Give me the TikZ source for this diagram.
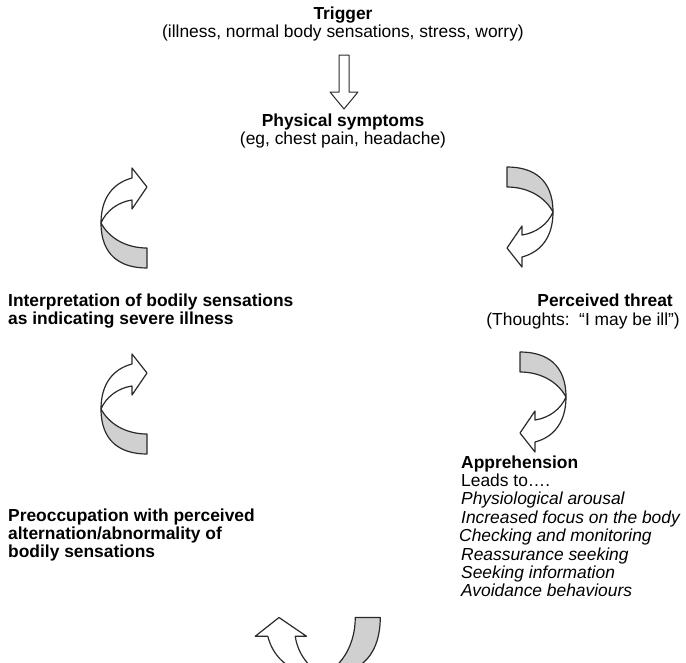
\documentclass[tikz,border=0pt]{standalone}
\usepackage{fontspec}
\setmainfont{Liberation Sans}
\usepackage{tikz}
\usetikzlibrary{positioning}
\definecolor{ribbongray}{HTML}{D0D0D0}
\definecolor{outline}{HTML}{2A2A2A}
\newcommand\bodyfont{\fontsize{17.4}{18}\selectfont}
\frenchspacing

\tikzset{
  txt/.style={inner sep=0pt, text height=12.6pt, text depth=5.4pt, font=\bodyfont},
  head/.style={txt, font=\bodyfont\bfseries},
  item/.style={txt, font=\bodyfont\itshape},
  ribbon/.style={draw=outline, line width=1.2pt, line join=round},
  pics/twistarrow/.style={code={
    % back side of the ribbon (grey)
    \filldraw[ribbon, fill=ribbongray]
      (0,0) .. controls (0,32) and (19,45) .. (46,45) -- (46,25)
      .. controls (25,25) and (8,15) .. (0,0) -- cycle;
    % front side with the head
    \filldraw[ribbon, fill=white]
      (0,0) .. controls (0,-25) and (12,-40) .. (31,-45) -- (31,-55)
      -- (46,-36) -- (31,-14) -- (31,-23)
      .. controls (17,-21) and (5,-12) .. (0,0) -- cycle;
  }}
}

\begin{document}
\begin{tikzpicture}[x=1pt, y=-1pt]
\useasboundingbox (0,0) rectangle (686,662);

% top of the cycle
\node[head, anchor=base] (trigger) at (343,19) {Trigger};
\node[txt, below=0pt of trigger] (causes) {(illness, normal body sensations, stress, worry)};
\node[head, anchor=base] (symptoms) at (343,126) {Physical symptoms};
\node[txt, below=0pt of symptoms] (examples) {(eg, chest pain, headache)};

% block arrow from trigger to symptoms
\coordinate (down) at (344,55);
\filldraw[ribbon, fill=white, line width=1pt, shift={(down)}]
  (-5,0) -- (5,0) -- (5,37) -- (14,37) -- (0,54) -- (-14,37) -- (-5,37) -- cycle;

% right side
\node[head, anchor=base east] (threat) at (673,306) {Perceived threat};
\node[txt, anchor=base east] (thoughts) at (680,325) {(Thoughts:\ \ “I may be ill”)};

\node[head, anchor=base west] (appr) at (461,468) {Apprehension};
\node[txt, anchor=north west] (leads) at (appr.south west) {Leads to….};
\node[item, anchor=north west] (arousal) at (leads.south west) {Physiological arousal};
\node[item, anchor=north west] (focus) at (arousal.south west) {Increased focus on the body};
\node[item, anchor=north west, xshift=-2pt] (checking) at (focus.south west) {Checking and monitoring};
\node[item, anchor=north west] (reassure) at (focus.south west |- checking.south) {Reassurance seeking};
\node[item, anchor=north west] (info) at (reassure.south west) {Seeking information};
\node[item, anchor=north west] (avoid) at (info.south west) {Avoidance behaviours};

% left side
\node[head, anchor=base west] (interp) at (8,306) {Interpretation of bodily sensations};
\node[head, anchor=north west] (interp2) at (interp.south west) {as indicating severe illness};

\node[head, anchor=base west] (preocc) at (8,521) {Preoccupation with perceived};
\node[head, anchor=north west] (preocc2) at (preocc.south west) {alternation/abnormality of};
\node[head, anchor=north west] (preocc3) at (preocc2.south west) {bodily sensations};

% twisted arrows round the cycle
\pic[rotate=180] at (553,212) {twistarrow};
\pic[rotate=180] at (566,397) {twistarrow};
\pic at (101,223) {twistarrow};
\pic at (101,409) {twistarrow};
\begin{scope}
  \clip (0,0) rectangle (686,662);
  \pic[rotate=90, scale=1.25] at (324,675) {twistarrow};
\end{scope}
\end{tikzpicture}
\end{document}
